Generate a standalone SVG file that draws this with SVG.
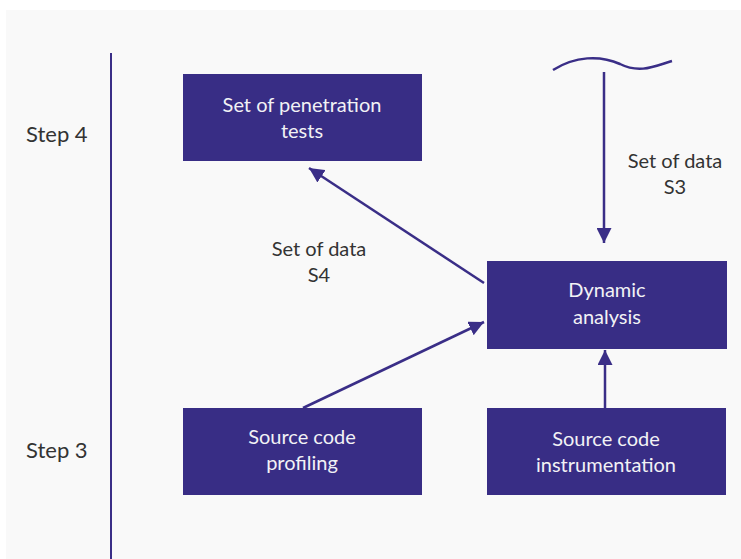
<svg xmlns="http://www.w3.org/2000/svg" width="741" height="559" viewBox="0 0 741 559">
<defs>
<style>
.box{fill:#382d85;}
.bt{font-family:Lato,"Open Sans",sans-serif;font-size:20px;fill:#f2f2f5;text-anchor:middle;}
.lt{font-family:Lato,"Open Sans",sans-serif;font-size:20px;fill:#333333;text-anchor:middle;}
.st{font-family:Lato,"Open Sans",sans-serif;font-size:22px;fill:#333333;}
.conn{stroke:#3a2e87;stroke-width:2.5;fill:none;}
</style>
<marker id="ah" viewBox="0 0 10 10" refX="10" refY="5" markerWidth="6" markerHeight="6" markerUnits="strokeWidth" orient="auto">
<path d="M0,0 L10,5 L0,10 z" fill="#3a2e87"/>
</marker>
</defs>
<rect x="0" y="0" width="741" height="559" fill="#ffffff"/>
<rect x="6" y="10" width="735" height="549" fill="#f9f9f9"/>
<line x1="111" y1="53" x2="111" y2="559" stroke="#3a2e87" stroke-width="2"/>
<text class="st" x="26" y="142">Step 4</text>
<text class="st" x="26" y="458">Step 3</text>
<g id="connectors">
<path class="conn" d="M553,70 C575,56 600,55 620,64 C640,74 655,66 672,61"/>
<line class="conn" x1="604" y1="72" x2="604" y2="243" marker-end="url(#ah)"/>
<line class="conn" x1="484" y1="283" x2="309" y2="168" marker-end="url(#ah)"/>
<line class="conn" x1="303" y1="408" x2="484" y2="322" marker-end="url(#ah)"/>
<line class="conn" x1="605" y1="408" x2="605" y2="350" marker-end="url(#ah)"/>
<text class="lt" x="675" y="168">Set of data</text>
<text class="lt" x="675" y="194">S3</text>
<text class="lt" x="319" y="256">Set of data</text>
<text class="lt" x="319" y="282">S4</text>
</g>
<g id="pentests">
<rect class="box" x="183" y="74" width="239" height="87"/>
<text class="bt" x="302" y="112">Set of penetration</text>
<text class="bt" x="302" y="138">tests</text>
</g>
<g id="dynamic">
<rect class="box" x="487" y="261" width="240" height="88"/>
<text class="bt" x="607" y="297">Dynamic</text>
<text class="bt" x="607" y="324">analysis</text>
</g>
<g id="profiling">
<rect class="box" x="183" y="408" width="239" height="87"/>
<text class="bt" x="302" y="444">Source code</text>
<text class="bt" x="302" y="470">profiling</text>
</g>
<g id="instrumentation">
<rect class="box" x="487" y="408" width="239" height="87"/>
<text class="bt" x="606" y="446">Source code</text>
<text class="bt" x="606" y="472">instrumentation</text>
</g>
</svg>
